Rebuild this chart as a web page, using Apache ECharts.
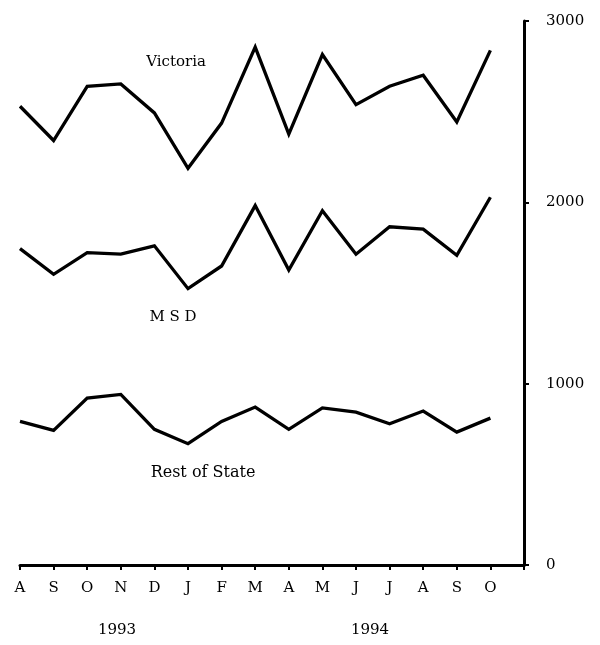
<!DOCTYPE html>
<html>
<head>
<meta charset="utf-8">
<script src="https://cdn.jsdelivr.net/npm/echarts@6/dist/echarts.min.js"></script>
<style>
  html, body { margin: 0; padding: 0; background: #fff; }
  #chart { width: 600px; height: 645px; }
</style>
</head>
<body>
<div id="chart"></div>
<script>
// Months Aug 1993 .. Oct 1994 (last empty slot closes the axis at the right)
const months = ['A','S','O','N','D','J','F','M','A','M','J','J','A','S','O',''];
const victoria = [2530, 2341, 2640, 2653, 2493, 2188, 2437, 2856, 2376, 2815, 2539, 2640, 2701, 2443, 2838];
const msd      = [1745, 1603, 1723, 1714, 1760, 1524, 1649, 1982, 1627, 1954, 1714, 1865, 1852, 1708, 2028];
const restOfState = [792, 742, 921, 941, 748, 669, 792, 871, 748, 866, 843, 779, 849, 733, 810];
const yTicks = [0, 1000, 2000, 3000];
const seriesNames = ['Victoria', 'M S D', 'Rest of State'];
const years = ['1993', '1994'];

const FONT = 'DejaVu Serif';
const chart = echarts.init(document.getElementById('chart'), null, { renderer: 'canvas' });

function lineSeries(name, data) {
  return {
    name: name,
    type: 'line',
    data: data,
    symbol: 'none',
    smooth: false,
    lineStyle: { color: '#000', width: 3.3, join: 'miter' },
    itemStyle: { color: '#000' }
  };
}

const option = {
  backgroundColor: '#fff',
  animation: false,
  grid: { left: 20, right: 76, top: 21, bottom: 80, containLabel: false },
  xAxis: {
    type: 'category',
    data: months,
    boundaryGap: false,
    axisLine: { show: true, lineStyle: { color: '#000', width: 3 } },
    axisTick: { show: true, interval: 0, length: 5, lineStyle: { color: '#000', width: 2 } },
    axisLabel: { interval: 0, margin: 16, color: '#000', fontFamily: FONT, fontSize: 15 },
    splitLine: { show: false }
  },
  yAxis: {
    type: 'value',
    position: 'right',
    min: yTicks[0],
    max: yTicks[yTicks.length - 1],
    interval: 1000,
    axisLine: { show: true, lineStyle: { color: '#000', width: 3 } },
    axisTick: { show: true, inside: false, length: 5, lineStyle: { color: '#000', width: 2 } },
    axisLabel: { margin: 22, color: '#000', fontFamily: FONT, fontSize: 15, align: 'left',
                 formatter: function (v) { return String(v); } },
    splitLine: { show: false }
  },
  series: [
    lineSeries(seriesNames[0], victoria),
    lineSeries(seriesNames[1], msd),
    lineSeries(seriesNames[2], restOfState)
  ],
  graphic: [
    { type: 'text', x: 176, y: 62, style: { text: seriesNames[0], fill: '#000', font: '15px "DejaVu Serif"', textAlign: 'center', textVerticalAlign: 'middle' } },
    { type: 'text', x: 173, y: 317, style: { text: seriesNames[1], fill: '#000', font: '15px "DejaVu Serif"', textAlign: 'center', textVerticalAlign: 'middle' } },
    { type: 'text', x: 203, y: 473, style: { text: seriesNames[2], fill: '#000', font: '16px "DejaVu Serif"', textAlign: 'center', textVerticalAlign: 'middle' } },
    { type: 'text', x: 117, y: 630, style: { text: years[0], fill: '#000', font: '15px "DejaVu Serif"', textAlign: 'center', textVerticalAlign: 'middle' } },
    { type: 'text', x: 370, y: 630, style: { text: years[1], fill: '#000', font: '15px "DejaVu Serif"', textAlign: 'center', textVerticalAlign: 'middle' } }
  ]
};
chart.setOption(option);
</script>
</body>
</html>
